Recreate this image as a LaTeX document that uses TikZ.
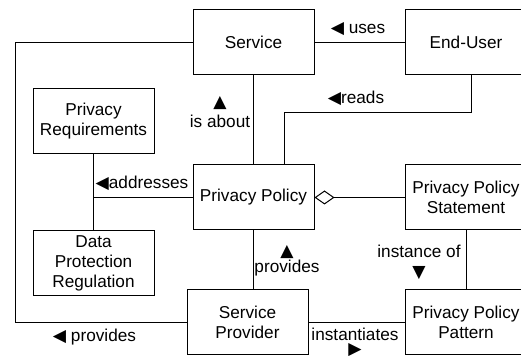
\documentclass[tikz,border=0pt]{standalone}
\usepackage{fontspec}
\setmainfont{Liberation Sans}
\newfontfamily\symfont{DejaVu Sans}
\usetikzlibrary{arrows.meta}
\newcommand{\tril}{{\symfont ◀}}
\newcommand{\trir}{{\symfont ▶}}
\newcommand{\triu}{{\symfont ▲}}
\newcommand{\trid}{{\symfont ▼}}
\begin{document}
\begin{tikzpicture}[x=0.5pt,y=-0.5pt,line width=0.5pt,
  every node/.style={font=\fontsize{8.6}{10}\selectfont,align=center,inner sep=0pt},
  entity/.style={draw,fill=white,minimum width=60.5pt,minimum height=32.5pt}]
\clip (0,0) rectangle (521,356);
\node[entity] (srv) at (253.5,42.5) {Service};
\node[entity] (eu) at (466,42.5) {End-User};
\node[entity] (pr) at (93.5,121) {Privacy\\Requirements};
\node[entity] (pp) at (253.5,197.5) {Privacy Policy};
\node[entity] (pps) at (466,197.5) {Privacy Policy\\Statement};
\node[entity] (dpr) at (93.5,263.5) {Data\\Protection\\Regulation};
\node[entity] (sp) at (247.5,322.5) {Service\\Provider};
\node[entity] (ppp) at (466,322.5) {Privacy Policy\\Pattern};
\coordinate (bend) at (16,42.5);
\coordinate (rd) at (284,113);
\draw (srv) -- (eu);
\draw (srv.west) -- (bend) |- (sp.west);
\draw (srv) -- (pp);
\draw ([xshift=2.75pt]eu.south) |- (rd) -- (rd |- pp.north);
\draw (pr) -- (dpr);
\draw (pp.west) -- (pp.west -| pr.south);
\draw[{Diamond[open,length=10pt,width=7pt]}-] (pp.east) -- (pps.west);
\draw (pps) -- (ppp);
\draw (pp.south) -- (pp.south |- sp.north);
\draw (sp.east |- ppp.west) -- (ppp.west);
\node (uses) at (358,29) {\tril{} uses};
\node (reads) at (356,98) {\tril reads};
\node (about) at (220,112) {\triu\\is about};
\node (addr) at (142,183) {\tril addresses};
\node (prov) at (287,261) {\triu\\[-2pt]provides};
\node (inst) at (419,262) {instance of\\\trid};
\node (instt) at (355,342) {instantiates\\[-3pt]\trir};
\node (provl) at (94.5,337) {\tril{} provides};
\end{tikzpicture}
\end{document}
